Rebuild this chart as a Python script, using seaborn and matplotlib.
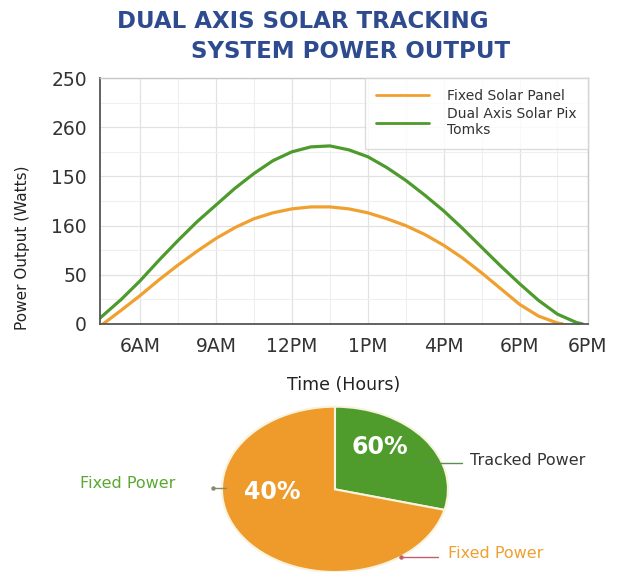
import numpy as np
import pandas as pd
import matplotlib
matplotlib.use("Agg")
import matplotlib.pyplot as plt
import seaborn as sns
from matplotlib.lines import Line2D

# ---- data ----
fixed_x = [0.51, 0.75, 1.0, 1.25, 1.5, 1.75, 2.0, 2.25, 2.5, 2.75, 3.0, 3.25, 3.5,
           3.75, 4.0, 4.25, 4.5, 4.75, 5.0, 5.25, 5.5, 5.75, 6.0, 6.25, 6.5, 6.57]
fixed_y = [0, 14, 29, 45, 60, 74, 87, 98, 107, 113, 117, 119, 119,
           117, 113, 107, 100, 91, 80, 67, 52, 36, 20, 8, 1, 0]
dual_x = [0.47, 0.75, 1.0, 1.25, 1.5, 1.75, 2.0, 2.25, 2.5, 2.75, 3.0, 3.25, 3.5,
          3.75, 4.0, 4.25, 4.5, 4.75, 5.0, 5.25, 5.5, 5.75, 6.0, 6.25, 6.5, 6.75, 6.83]
dual_y = [6, 25, 44, 65, 85, 104, 121, 138, 153, 166, 175, 180, 181,
          177, 170, 159, 146, 131, 115, 97, 78, 59, 41, 24, 10, 1.5, 0]

series_names = ["Fixed Solar Panel", "Dual Axis Solar Pix\nTomks"]
x_tick_pos = [1, 2, 3, 4, 5, 6, 6.9]
x_tick_labels = ["6AM", "9AM", "12PM", "1PM", "4PM", "6PM", "6PM"]
y_tick_pos = [0, 50, 100, 150, 200, 250]
y_tick_labels = ["0", "50", "160", "150", "260", "250"]

pie_labels = ["Tracked Power", "Fixed Power"]
pie_values = [29, 71]
pie_pct_text = ["60%", "40%"]

ORANGE = "#f0a02e"
GREEN = "#4d9b2c"
PIE_ORANGE = "#ee9b2c"
PIE_GREEN = "#4f9c2d"
TITLE = "#2d4b8e"

sns.set_style("white")
plt.rcParams["font.family"] = ["DejaVu Sans"]

df = pd.concat([
    pd.DataFrame({"x": fixed_x, "y": fixed_y, "s": series_names[0]}),
    pd.DataFrame({"x": dual_x, "y": dual_y, "s": series_names[1]}),
])

fig = plt.figure(figsize=(6.26, 5.72), dpi=100)
fig.patch.set_facecolor("white")

ax = fig.add_axes([0.16, 0.4336, 0.779, 0.43])
sns.lineplot(data=df, x="x", y="y", hue="s", palette=[ORANGE, GREEN],
             linewidth=2.3, ax=ax, legend=False, sort=False)
for ln in ax.get_lines():
    ln.set_solid_joinstyle("round")
    ln.set_solid_capstyle("round")
ax.set_xlim(0.472, 6.9)
ax.set_ylim(0, 250)
ax.set_xticks(x_tick_pos)
ax.set_xticklabels(x_tick_labels)
ax.set_yticks(y_tick_pos)
ax.set_yticklabels(y_tick_labels)
ax.set_xticks(np.arange(1.5, 6.9, 1.0), minor=True)
ax.set_yticks(np.arange(25, 250, 50), minor=True)
ax.grid(True, which="major", color="#e2e2e2", linewidth=0.9)
ax.grid(True, which="minor", color="#efefef", linewidth=0.8)
ax.tick_params(axis="both", which="major", labelsize=13.5, colors="#333333",
               length=6, width=1.3, direction="out")
ax.tick_params(axis="both", which="minor", length=0)
ax.set_xlabel("Time (Hours)", fontsize=12.5, color="#222222", labelpad=14)
ax.set_ylabel("Power Output (Watts)", fontsize=11, color="#222222")
ax.yaxis.set_label_coords(-0.143, 0.31)
for side in ["left", "bottom"]:
    ax.spines[side].set_color("#555555")
    ax.spines[side].set_linewidth(1.3)
for side in ["top", "right"]:
    ax.spines[side].set_color("#c8c8c8")
    ax.spines[side].set_linewidth(1.0)
    ax.spines[side].set_visible(True)

handles = [Line2D([0], [0], color=ORANGE, lw=2.0), Line2D([0], [0], color=GREEN, lw=2.0)]
leg = ax.legend(handles, series_names, loc="upper right", borderaxespad=0.0,
                fontsize=10, frameon=True, fancybox=False, edgecolor="#d5d5d5",
                handlelength=3.8, labelspacing=0.3, borderpad=0.8, handletextpad=1.3)
leg.get_frame().set_linewidth(1.0)
for t in leg.get_texts():
    t.set_color("#333333")

# ---- titles ----
fig.text(0.484, 0.962, "DUAL AXIS SOLAR TRACKING", fontsize=16.5, fontweight="bold",
         color=TITLE, ha="center", va="center")
fig.text(0.560, 0.910, "SYSTEM POWER OUTPUT", fontsize=16.5, fontweight="bold",
         color=TITLE, ha="center", va="center")

# ---- pie ----
pax = fig.add_axes([0.3546, 0.0, 0.361, 0.289])
wedges, _ = pax.pie(pie_values, colors=[PIE_GREEN, PIE_ORANGE], startangle=90,
                    counterclock=False,
                    wedgeprops=dict(edgecolor="#f7f3dc", linewidth=1.5))
pax.set_aspect("auto")
pax.set_xlim(-1.0, 1.0)
pax.set_ylim(-1.0, 1.0)
for w in wedges:
    w.set_clip_on(False)

fig.text(0.607, 0.219, pie_pct_text[0], fontsize=17, fontweight="bold",
         color="white", ha="center", va="center")
fig.text(0.4345, 0.139, pie_pct_text[1], fontsize=17, fontweight="bold",
         color="white", ha="center", va="center")

fig.text(0.750, 0.195, pie_labels[0], fontsize=11.5, color="#333333",
         ha="left", va="center")
fig.text(0.128, 0.155, pie_labels[1], fontsize=11.5, color="#5aa832",
         ha="left", va="center")
fig.text(0.716, 0.033, pie_labels[1], fontsize=11.5, color="#f0a030",
         ha="left", va="center")

fig.add_artist(Line2D([427 / 626, 462 / 626], [1 - 463 / 572, 1 - 463 / 572],
                      color="#5b8f4a", lw=1.0))
fig.add_artist(Line2D([213 / 626, 226 / 626], [1 - 488 / 572, 1 - 488 / 572],
                      color="#8a8a6a", lw=1.0, marker="o", markersize=2.2,
                      markevery=[0]))
fig.add_artist(Line2D([401 / 626, 438 / 626], [1 - 557 / 572, 1 - 557 / 572],
                      color="#c0606a", lw=1.0, marker="o", markersize=2.2,
                      markevery=[0]))

fig.savefig("out.png", dpi=100, facecolor="white")
